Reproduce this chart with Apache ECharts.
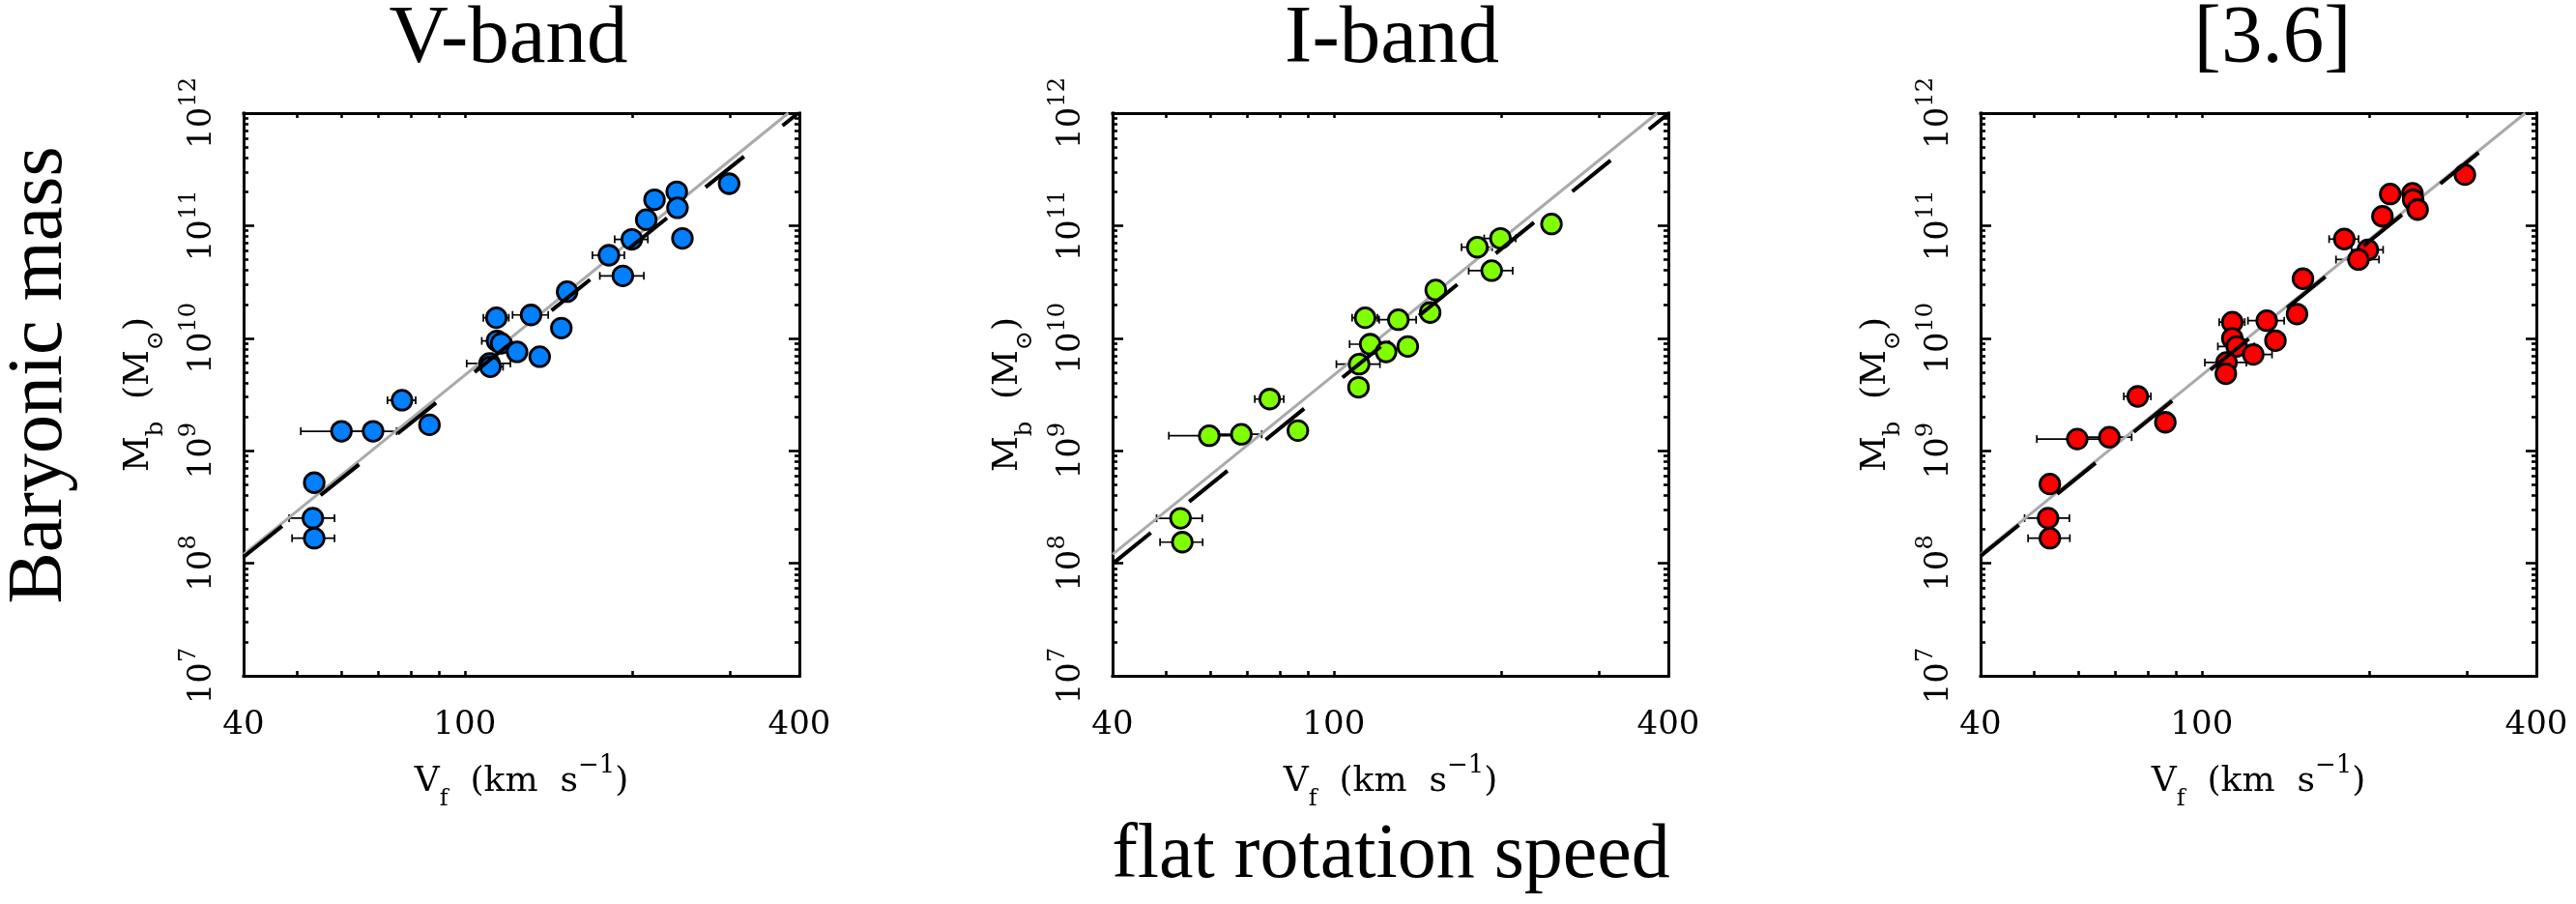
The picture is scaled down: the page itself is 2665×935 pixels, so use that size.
<!DOCTYPE html>
<html>
<head>
<meta charset="utf-8">
<script src="https://cdn.jsdelivr.net/npm/echarts@6/dist/echarts.min.js"></script>
<style>
  html, body { margin: 0; padding: 0; background: #ffffff; }
  #chart { width: 2665px; height: 935px; }
</style>
</head>
<body>
<div id="chart"></div>
<script>
// ---------------------------------------------------------------
// Baryonic Tully-Fisher relation in three photometric bands.
// Vf: flat rotation speed (km/s), VfErr: its uncertainty (km/s),
// Mb: baryonic mass (solar masses).
// ---------------------------------------------------------------
const vBandVf = [299, 240.7, 219.5, 241.4, 212.1, 246.4, 199.8, 181.7, 192.5, 152.8,
                 131.6, 114.0, 149.2, 114.3, 116.3, 124.2, 136.4, 110.8, 111.2, 77.1,
                 60.0, 68.4, 86.4, 53.6, 53.3, 53.6];
const vBandVfErr = [4, 3, 3, 4, 3, 4, 13.7, 12, 17.5, 4,
                    9.7, 6, 3, 7, 3, 3, 3, 10, 6, 4.5,
                    9.3, 7, 2, 2, 5, 4.7];
const vBandMb = [2.36e11, 2.0e11, 1.70e11, 1.44e11, 1.13e11, 7.7e10, 7.55e10, 5.46e10, 3.58e10, 2.59e10,
                 1.61e10, 1.52e10, 1.23e10, 9.46e9, 9.0e9, 7.56e9, 6.85e9, 5.96e9, 5.58e9, 2.81e9,
                 1.49e9, 1.49e9, 1.70e9, 5.2e8, 2.52e8, 1.67e8];

const iBandVf = [246.5, 199.5, 181.3, 192.4, 152.6, 149.1, 130.7, 113.9, 135.9, 116.3,
                 124.2, 111.1, 110.8, 76.7, 59.7, 68.2, 86.2, 53.0, 53.4];
const iBandVfErr = [4, 13, 11.5, 17.5, 3, 3, 10, 6, 3, 9.5,
                    3, 10, 3, 4.6, 9.2, 6, 2, 5, 4.7];
const iBandMb = [1.035e11, 7.7e10, 6.44e10, 3.98e10, 2.68e10, 1.69e10, 1.46e10, 1.52e10, 8.45e9, 8.85e9,
                 7.55e9, 5.88e9, 3.66e9, 2.88e9, 1.36e9, 1.40e9, 1.51e9, 2.51e8, 1.54e8];

const irBandVf = [297.5, 218.3, 239.4, 240.1, 244.6, 211.4, 180.5, 199, 191.4, 152.1,
                  148.4, 130.9, 113.5, 135.7, 113.5, 115.6, 123.8, 110.8, 110.5, 76.7,
                  59.7, 68.2, 86.0, 53.3, 52.9, 53.3];
const irBandVfErr = [4, 3, 4, 4, 4, 3, 11, 13, 17, 3,
                     3, 9.8, 6, 3, 3, 8.7, 10, 9.5, 3, 4.3,
                     9.2, 6.6, 2, 2, 4.9, 4.6];
const irBandMb = [2.84e11, 1.91e11, 1.94e11, 1.70e11, 1.39e11, 1.21e11, 7.6e10, 6.1e10, 5.0e10, 3.38e10,
                  1.64e10, 1.43e10, 1.39e10, 9.52e9, 9.97e9, 8.45e9, 7.17e9, 6.08e9, 4.83e9, 3.04e9,
                  1.27e9, 1.32e9, 1.79e9, 5.06e8, 2.52e8, 1.67e8];

// Reference relation Mb ~ Vf^4 (solid grey), given by its two end points
const refLineVf = [40, 382];
const refLineMb = [1.2e8, 1e12];

// Per-band fitted relations (black dashed), given by their end points
const vFitVf = [40, 398];
const vFitMb = [1.14e8, 1e12];
const iFitVf = [40, 400];
const iFitMb = [9.9e7, 9.9e11];
const irFitVf = [40, 360];
const irFitMb = [1.16e8, 7.6e11];

// Panel titles and axis ticks
const panelTitles = ['V-band', 'I-band', '[3.6]'];
const xLabelValues = [40, 100, 400];
const xTickValues = [50, 60, 70, 80, 90, 100, 200, 300];
const yLabelValues = [1e7, 1e8, 1e9, 1e10, 1e11, 1e12];
const yMajorTicks = [1e8, 1e9, 1e10, 1e11];
const yMinorTicks = [2e7, 3e7, 4e7, 5e7, 6e7, 7e7, 8e7, 9e7,
                     2e8, 3e8, 4e8, 5e8, 6e8, 7e8, 8e8, 9e8,
                     2e9, 3e9, 4e9, 5e9, 6e9, 7e9, 8e9, 9e9,
                     2e10, 3e10, 4e10, 5e10, 6e10, 7e10, 8e10, 9e10,
                     2e11, 3e11, 4e11, 5e11, 6e11, 7e11, 8e11, 9e11];

// ---------------------------------------------------------------
// Layout and styling
// ---------------------------------------------------------------
const panels = [
  { vf: vBandVf, err: vBandVfErr, mb: vBandMb, fitVf: vFitVf, fitMb: vFitMb, color: '#0080ff' },
  { vf: iBandVf, err: iBandVfErr, mb: iBandMb, fitVf: iFitVf, fitMb: iFitMb, color: '#80ff00' },
  { vf: irBandVf, err: irBandVfErr, mb: irBandMb, fitVf: irFitVf, fitMb: irFitMb, color: '#ff0000' }
];
const gridLefts = [252, 1151, 2049];
const GRID_TOP = 117;
const GRID_WIDTH = 575;
const GRID_HEIGHT = 582;
const titleCenters = [526, 1440, 2351];

const SMALL_FONT = 'DejaVu Serif';
const BIG_FONT = 'Liberation Serif';
const axisLineStyle = { color: '#000', width: 3, cap: 'square' };
const tickLineStyle = { color: '#000', width: 2.6 };

const nameRich = {
  n:   { fontFamily: SMALL_FONT, fontSize: 36, lineHeight: 60, color: '#000' },
  sub: { fontFamily: SMALL_FONT, fontSize: 24, lineHeight: 24, verticalAlign: 'bottom', color: '#000' },
  sup: { fontFamily: SMALL_FONT, fontSize: 26, lineHeight: 24, verticalAlign: 'top', color: '#000' }
};
const powRich = {
  b: { fontFamily: SMALL_FONT, fontSize: 34, lineHeight: 50, color: '#000' },
  s: { fontFamily: SMALL_FONT, fontSize: 24, lineHeight: 20, verticalAlign: 'top', color: '#000' }
};

const grids = [];
const xAxes = [];
const yAxes = [];
const series = [];

panels.forEach(function (p, g) {
  grids.push({
    left: gridLefts[g], top: GRID_TOP, width: GRID_WIDTH, height: GRID_HEIGHT,
    containLabel: false, outerBoundsMode: 'none'
  });

  const xBase = { gridIndex: g, type: 'log', logBase: 10, min: 40, max: 400,
                  splitLine: { show: false }, axisPointer: { show: false } };
  // bottom axis: labels and name
  xAxes.push(Object.assign({}, xBase, {
    position: 'bottom',
    axisLine: { show: true, onZero: false, lineStyle: axisLineStyle },
    axisTick: { show: true, inside: true, length: 5, lineStyle: tickLineStyle, customValues: xTickValues },
    axisLabel: { show: true, customValues: xLabelValues, margin: 34, fontFamily: SMALL_FONT,
                 fontSize: 34, color: '#000', formatter: function (v) { return String(Math.round(v)); } },
    name: '{n|V}{sub|f}{n|  (km  s}{sup|−1}{n|)}',
    nameLocation: 'middle', nameGap: 80, nameMoveOverlap: false,
    nameTextStyle: { fontFamily: SMALL_FONT, fontSize: 36, color: '#000', rich: nameRich }
  }));
  // top axis: mirrored ticks
  xAxes.push(Object.assign({}, xBase, {
    position: 'top',
    axisLine: { show: true, onZero: false, lineStyle: axisLineStyle },
    axisTick: { show: true, inside: true, length: 5, lineStyle: tickLineStyle, customValues: xTickValues },
    axisLabel: { show: false }
  }));

  const yBase = { gridIndex: g, type: 'log', logBase: 10, min: 1e7, max: 1e12,
                  splitLine: { show: false }, axisPointer: { show: false } };
  // left axis: labels, name and decade ticks
  yAxes.push(Object.assign({}, yBase, {
    position: 'left',
    axisLine: { show: true, onZero: false, lineStyle: axisLineStyle },
    axisTick: { show: true, inside: true, length: 11, lineStyle: tickLineStyle, customValues: yMajorTicks },
    axisLabel: {
      show: true, customValues: yLabelValues, rotate: 90, margin: 18,
      formatter: function (v) { return '{b|10}{s|' + Math.round(Math.log10(v)) + '}'; },
      rich: powRich
    },
    name: '{n|M}{sub|b}{n|  (M}{sub|⊙}{n|)}',
    nameLocation: 'middle', nameGap: 78, nameMoveOverlap: false,
    nameTextStyle: { fontFamily: SMALL_FONT, fontSize: 36, color: '#000', rich: nameRich }
  }));
  // left axis: sub-decade ticks
  yAxes.push(Object.assign({}, yBase, {
    position: 'left',
    axisLine: { show: false, onZero: false },
    axisTick: { show: true, inside: true, length: 5, lineStyle: tickLineStyle, customValues: yMinorTicks },
    axisLabel: { show: false }
  }));
  // right axis: decade ticks
  yAxes.push(Object.assign({}, yBase, {
    position: 'right',
    axisLine: { show: true, onZero: false, lineStyle: axisLineStyle },
    axisTick: { show: true, inside: true, length: 11, lineStyle: tickLineStyle, customValues: yMajorTicks },
    axisLabel: { show: false }
  }));
  // right axis: sub-decade ticks
  yAxes.push(Object.assign({}, yBase, {
    position: 'right',
    axisLine: { show: false, onZero: false },
    axisTick: { show: true, inside: true, length: 5, lineStyle: tickLineStyle, customValues: yMinorTicks },
    axisLabel: { show: false }
  }));

  const xi = 2 * g;
  const yi = 4 * g;

  // horizontal error bars with end caps
  series.push({
    type: 'custom', xAxisIndex: xi, yAxisIndex: yi, z: 1, silent: true,
    data: p.vf.map(function (v, k) { return [v, p.mb[k], p.err[k]]; }),
    encode: { x: 0, y: 1 },
    renderItem: function (params, api) {
      const v = api.value(0), m = api.value(1), e = api.value(2);
      const a = api.coord([v - e, m]);
      const b = api.coord([v + e, m]);
      const cap = 4;
      const st = { stroke: '#000', lineWidth: 1.7, fill: null };
      return {
        type: 'group',
        children: [
          { type: 'line', shape: { x1: a[0], y1: a[1], x2: b[0], y2: b[1] }, style: st },
          { type: 'line', shape: { x1: a[0], y1: a[1] - cap, x2: a[0], y2: a[1] + cap }, style: st },
          { type: 'line', shape: { x1: b[0], y1: b[1] - cap, x2: b[0], y2: b[1] + cap }, style: st }
        ]
      };
    }
  });

  // reference relation
  series.push({
    type: 'line', xAxisIndex: xi, yAxisIndex: yi, z: 2, silent: true,
    symbol: 'none', showSymbol: false,
    data: refLineVf.map(function (v, k) { return [v, refLineMb[k]]; }),
    lineStyle: { color: '#aaaaaa', width: 3 }
  });

  // galaxies
  series.push({
    type: 'scatter', xAxisIndex: xi, yAxisIndex: yi, z: 3, silent: true,
    symbol: 'circle', symbolSize: 20.5,
    data: p.vf.map(function (v, k) { return [v, p.mb[k]]; }),
    itemStyle: { color: p.color, borderColor: '#000', borderWidth: 2.8, opacity: 1 }
  });

  // fitted relation
  series.push({
    type: 'line', xAxisIndex: xi, yAxisIndex: yi, z: 4, silent: true,
    symbol: 'none', showSymbol: false,
    data: p.fitVf.map(function (v, k) { return [v, p.fitMb[k]]; }),
    lineStyle: { color: '#000', width: 4, type: [51, 51], cap: 'butt' }
  });
});

const graphics = panelTitles.map(function (t, i) {
  return {
    type: 'text', x: titleCenters[i], y: 42, silent: true,
    style: { text: t, fontFamily: BIG_FONT, fontSize: 85, fill: '#000', align: 'center', verticalAlign: 'middle' }
  };
});
graphics.push({
  type: 'text', x: 42, y: 388, rotation: Math.PI / 2, silent: true,
  style: { text: 'Baryonic mass', fontFamily: BIG_FONT, fontSize: 80, fill: '#000', align: 'center', verticalAlign: 'middle' }
});
graphics.push({
  type: 'text', x: 1439, y: 886, silent: true,
  style: { text: 'flat rotation speed', fontFamily: BIG_FONT, fontSize: 80, fill: '#000', align: 'center', verticalAlign: 'middle' }
});

const chart = echarts.init(document.getElementById('chart'), null, { renderer: 'canvas' });
chart.setOption({
  backgroundColor: '#ffffff',
  animation: false,
  grid: grids,
  xAxis: xAxes,
  yAxis: yAxes,
  series: series,
  graphic: graphics
});
</script>
</body>
</html>
